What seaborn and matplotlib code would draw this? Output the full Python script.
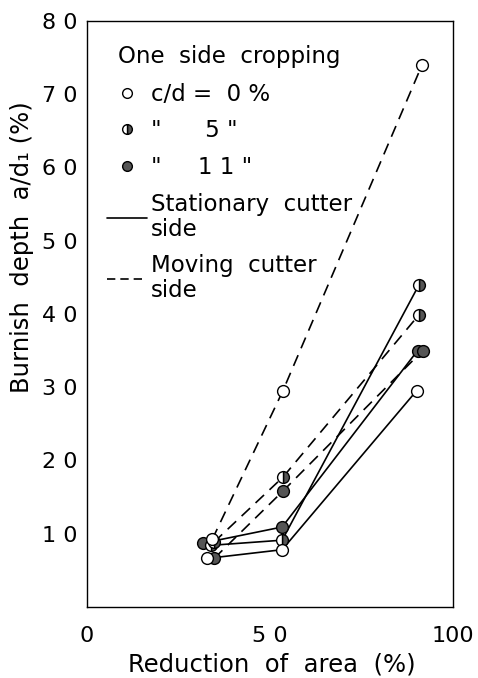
import matplotlib
matplotlib.use("Agg")
import matplotlib.pyplot as plt
import seaborn as sns
import pandas as pd
from matplotlib.lines import Line2D
from matplotlib.ticker import MultipleLocator

# data: reduction of area (%) vs burnish depth a/d1 (%)
x_cd0_stat = [32.7, 53.3, 90.0]
y_cd0_stat = [6.6, 7.8, 29.5]
x_cd0_move = [34.2, 53.5, 91.5]
y_cd0_move = [9.2, 29.5, 74.0]

x_cd5_stat = [34.0, 53.3, 90.7]
y_cd5_stat = [8.4, 9.1, 44.0]
x_cd5_move = [34.6, 53.5, 90.7]
y_cd5_move = [8.8, 17.7, 39.9]

x_cd11_stat = [31.7, 53.3, 90.3]
y_cd11_stat = [8.7, 10.9, 35.0]
x_cd11_move = [34.7, 53.5, 91.7]
y_cd11_move = [6.6, 15.8, 35.0]

legend_labels = ["c/d =  0 %", '"      5 "', '"     1 1 "',
                 "Stationary  cutter\nside", "Moving  cutter\nside"]
xtick_labels = ["0", "5 0", "100"]
ytick_values = [10, 20, 30, 40, 50, 60, 70, 80]

series = [
    ("0", "stationary", x_cd0_stat, y_cd0_stat),
    ("0", "moving", x_cd0_move, y_cd0_move),
    ("5", "stationary", x_cd5_stat, y_cd5_stat),
    ("5", "moving", x_cd5_move, y_cd5_move),
    ("11", "stationary", x_cd11_stat, y_cd11_stat),
    ("11", "moving", x_cd11_move, y_cd11_move),
]
rows = []
for cd, side, xs, ys in series:
    for xv, yv in zip(xs, ys):
        rows.append({"cd": cd, "side": side, "x": xv, "y": yv})
df = pd.DataFrame(rows)

sns.set_style("white")
plt.rcParams["font.family"] = ["DejaVu Sans"]
plt.rcParams["text.color"] = "black"
plt.rcParams["axes.labelcolor"] = "black"
plt.rcParams["xtick.color"] = "black"
plt.rcParams["ytick.color"] = "black"

fig = plt.figure(figsize=(4.78, 6.78), dpi=100)
ax = fig.add_axes([0.182, 0.105, 0.766, 0.864])

# lines: solid = stationary cutter side, dashed = moving cutter side
for (cd, side), g in df.groupby(["cd", "side"], sort=False):
    sns.lineplot(data=g, x="x", y="y", ax=ax, color="black", lw=1.2,
                 sort=False, estimator=None, legend=False,
                 linestyle="-" if side == "stationary" else (0, (7, 4.5)))

# markers
marker_style = {
    "0": dict(fillstyle="full", markerfacecolor="white"),
    "5": dict(fillstyle="right", markerfacecolor="#555555", markerfacecoloralt="white"),
    "11": dict(fillstyle="full", markerfacecolor="#555555"),
}
for cd in ["11", "5", "0"]:
    g = df[df["cd"] == cd]
    ax.plot(g["x"], g["y"], ls="none", marker="o", markersize=8.5,
            markeredgecolor="black", markeredgewidth=1.0, zorder=5,
            **marker_style[cd])

ax.set_xlim(0, 100)
ax.set_ylim(0, 80)
ax.set_xticks([0, 50, 100])
ax.set_xticklabels(xtick_labels, fontsize=16)
ax.xaxis.set_minor_locator(MultipleLocator(10))
ax.set_yticks(ytick_values)
ax.set_yticklabels([" ".join(str(v)) for v in ytick_values], fontsize=16)
ax.yaxis.set_minor_locator(MultipleLocator(5))
ax.tick_params(which="both", direction="in", width=1.0)
ax.tick_params(axis="x", which="major", length=9, pad=14)
ax.tick_params(axis="x", which="minor", length=5)
ax.tick_params(axis="y", which="major", length=8, pad=7)
ax.tick_params(axis="y", which="minor", length=8)
for s in ax.spines.values():
    s.set_color("black")
    s.set_linewidth(1.0)

ax.set_xlabel("Reduction  of  area  (%)", fontsize=17.5, va="top")
ax.xaxis.set_label_coords(0.506, -0.078)
ax.set_ylabel("Burnish  depth  a/d\u2081 (%)", fontsize=17.5, va="center")
ax.yaxis.set_label_coords(-0.178, 0.614)

ax.text(0.085, 0.94, "One  side  cropping", transform=ax.transAxes,
        fontsize=16.5, ha="left", va="center")

handles = [
    Line2D([], [], ls="none", marker="o", markersize=7, markeredgecolor="black", **marker_style["0"]),
    Line2D([], [], ls="none", marker="o", markersize=7, markeredgecolor="black", **marker_style["5"]),
    Line2D([], [], ls="none", marker="o", markersize=7, markeredgecolor="black", **marker_style["11"]),
    Line2D([], [], color="black", lw=1.2, ls="-"),
    Line2D([], [], color="black", lw=1.2, ls=(0, (5, 3))),
]
leg = ax.legend(handles, legend_labels, loc="upper left", bbox_to_anchor=(0.055, 0.895),
                frameon=False, fontsize=16.5, handlelength=1.75, handletextpad=0.15,
                borderpad=0, borderaxespad=0, labelspacing=0.6)
for t in leg.get_texts():
    t.set_linespacing(1.1)

fig.savefig("out.png", dpi=100)
